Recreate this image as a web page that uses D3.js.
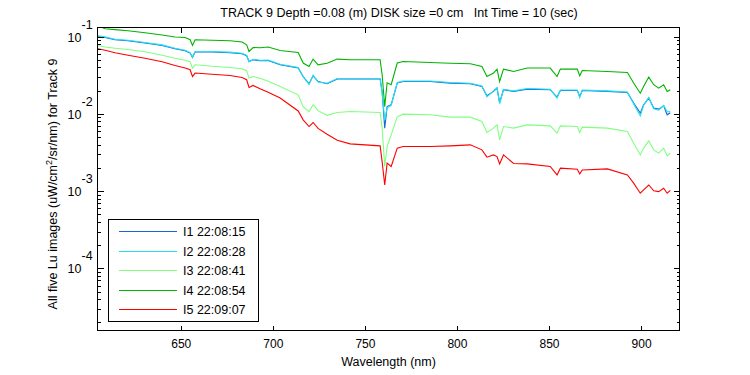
<!DOCTYPE html>
<html>
<head>
<meta charset="utf-8">
<script src="https://cdn.jsdelivr.net/npm/d3@7"></script>
<style>
  body { margin: 0; background: #fff; }
  svg { font-family: Arial, "Liberation Sans", sans-serif; }
  text { fill: #000; }
</style>
</head>
<body>
<div id="chart"></div>
<script>
// wavelength (nm) sampled along the spectra
var wavelengths = [604.8, 608.6, 614.0, 621.1, 630.3, 639.6, 646.6, 652.1, 654.8, 656.1,
  657.5, 666.7, 676.5, 683.0, 685.5, 686.8, 689.0, 692.8, 697.2, 703.7,
  713.5, 716.2, 719.4, 721.6, 724.3, 729.2, 734.7, 741.7, 758.0, 759.1,
  760.5, 761.8, 764.0, 767.3, 770.5, 785.2, 796.1, 807.0, 813.3, 816.0,
  819.6, 821.5, 822.9, 825.0, 830.5, 837.9, 850.4, 854.1, 855.9, 865.1,
  866.4, 867.8, 881.4, 892.3, 895.7, 899.3, 901.1, 903.9, 906.6, 909.3,
  912.0, 913.9, 915.6];

var lu1 = [0.100, 0.0974, 0.0909, 0.0882, 0.0824, 0.0767, 0.0695, 0.0655, 0.0611, 0.0536,
  0.0630, 0.0630, 0.0617, 0.0599, 0.0564, 0.0476, 0.0501, 0.0486, 0.0490, 0.0431,
  0.0391, 0.0304, 0.0245, 0.0311, 0.0262, 0.0245, 0.0282, 0.0282, 0.0282, 0.0193,
  0.00653, 0.0124, 0.0131, 0.0250, 0.0262, 0.0262, 0.0250, 0.0245, 0.0226, 0.0171,
  0.0195, 0.0215, 0.0140, 0.0205, 0.0195, 0.0209, 0.0205, 0.0165, 0.0200, 0.0200,
  0.0168, 0.0200, 0.0195, 0.0189, 0.0138, 0.0102, 0.0131, 0.0160, 0.0119, 0.0115,
  0.0127, 0.00971, 0.0103];

var lu2 = [0.102, 0.0990, 0.0925, 0.0895, 0.0838, 0.0780, 0.0707, 0.0666, 0.0620, 0.0545,
  0.0640, 0.0641, 0.0628, 0.0609, 0.0572, 0.0470, 0.0508, 0.0494, 0.0498, 0.0438,
  0.0397, 0.0300, 0.0240, 0.0316, 0.0258, 0.0249, 0.0287, 0.0287, 0.0287, 0.0185,
  0.00836, 0.0120, 0.0129, 0.0254, 0.0266, 0.0266, 0.0254, 0.0249, 0.0230, 0.0166,
  0.0198, 0.0219, 0.0135, 0.0208, 0.0198, 0.0213, 0.0208, 0.0160, 0.0203, 0.0203,
  0.0162, 0.0203, 0.0198, 0.0192, 0.0134, 0.00942, 0.0128, 0.0163, 0.0116, 0.0112,
  0.0129, 0.0106, 0.0107];

var lu3 = [0.0767, 0.0731, 0.0706, 0.0679, 0.0636, 0.0573, 0.0524, 0.0493, 0.0472, 0.0391,
  0.0431, 0.0412, 0.0398, 0.0383, 0.0361, 0.0290, 0.0304, 0.0288, 0.0264, 0.0226,
  0.0176, 0.0124, 0.0107, 0.0131, 0.0110, 0.00956, 0.0104, 0.0107, 0.0104, 0.00659,
  0.00208, 0.00377, 0.00535, 0.00915, 0.00991, 0.00971, 0.00906, 0.00906, 0.00795, 0.00573,
  0.00653, 0.00720, 0.00461, 0.00685, 0.00653, 0.00720, 0.00699, 0.00563, 0.00699, 0.00685,
  0.00573, 0.00673, 0.00653, 0.00590, 0.00417, 0.00294, 0.00360, 0.00447, 0.00342, 0.00310,
  0.00360, 0.00286, 0.00310];

var lu4 = [0.138, 0.126, 0.123, 0.119, 0.112, 0.105, 0.0988, 0.0971, 0.0909, 0.0767,
  0.0909, 0.0896, 0.0882, 0.0849, 0.0783, 0.0641, 0.0722, 0.0716, 0.0731, 0.0661,
  0.0622, 0.0454, 0.0410, 0.0511, 0.0431, 0.0451, 0.0511, 0.0501, 0.0501, 0.0320,
  0.0124, 0.0252, 0.0238, 0.0454, 0.0476, 0.0462, 0.0451, 0.0444, 0.0410, 0.0304,
  0.0337, 0.0379, 0.0262, 0.0379, 0.0353, 0.0391, 0.0391, 0.0304, 0.0379, 0.0379,
  0.0311, 0.0364, 0.0353, 0.0343, 0.0250, 0.0185, 0.0226, 0.0299, 0.0238, 0.0215,
  0.0238, 0.0195, 0.0205];

var lu5 = [0.0695, 0.0665, 0.0617, 0.0573, 0.0524, 0.0472, 0.0421, 0.0391, 0.0372, 0.0304,
  0.0337, 0.0325, 0.0313, 0.0295, 0.0276, 0.0219, 0.0233, 0.0211, 0.0190, 0.0160,
  0.0109, 0.00836, 0.00685, 0.00772, 0.00649, 0.00543, 0.00454, 0.00409, 0.00385, 0.00239,
  0.00120, 0.00230, 0.00208, 0.00360, 0.00377, 0.00377, 0.00385, 0.00397, 0.00342, 0.00275,
  0.00294, 0.00280, 0.00225, 0.00294, 0.00228, 0.00225, 0.00208, 0.00162, 0.00198, 0.00192,
  0.00167, 0.00188, 0.00194, 0.00162, 0.00127, 0.000939, 0.00104, 0.00120, 0.00101, 0.000985,
  0.00109, 0.000939, 0.00102];

var seriesNames = ["I1 22:08:15", "I2 22:08:28", "I3 22:08:41", "I4 22:08:54", "I5 22:09:07"];
var seriesColors = ["#1467d4", "#22e2f2", "#80ff80", "#00b400", "#ff0000"];
var xTicks = [650, 700, 750, 800, 850, 900];
var yExponents = [-1, -2, -3, -4];

var title = "TRACK 9 Depth =0.08 (m) DISK size =0 cm   Int Time = 10 (sec)";

var W = 750, H = 375;
var pL = 97.5, pR = 679.5, pT = 27.5, pB = 330.5;

var svg = d3.select("#chart").append("svg")
    .attr("width", W).attr("height", H);

var x = d3.scaleLinear().domain([604.5, 920.6]).range([pL, pR]);
var y = d3.scaleLog().domain([1.57e-5, 0.131]).range([pB, pT]);

svg.append("defs").append("clipPath").attr("id", "plotclip")
    .append("rect").attr("x", pL).attr("y", pT)
    .attr("width", pR - pL).attr("height", pB - pT);

// spectra
var allSeries = [lu1, lu2, lu3, lu4, lu5];
var line = d3.line()
    .x(function(d, i) { return x(wavelengths[i]); })
    .y(function(d) { return y(d); });

svg.append("g").attr("clip-path", "url(#plotclip)")
  .selectAll("path").data(allSeries).enter().append("path")
    .attr("d", function(d) { return line(d); })
    .attr("fill", "none")
    .attr("stroke", function(d, i) { return seriesColors[i]; })
    .attr("stroke-width", 1.1);

// axes box + ticks
var ax = svg.append("g").attr("shape-rendering", "crispEdges")
    .attr("stroke", "#000").attr("stroke-width", 1);

ax.append("rect").attr("x", pL).attr("y", pT)
    .attr("width", pR - pL).attr("height", pB - pT)
    .attr("fill", "none");

xTicks.forEach(function(t) {
    ax.append("line").attr("x1", x(t)).attr("x2", x(t)).attr("y1", pB).attr("y2", pB - 5);
    ax.append("line").attr("x1", x(t)).attr("x2", x(t)).attr("y1", pT).attr("y2", pT + 5);
});

// log ticks: majors at decades, minors at 2..9
var ymin = y.domain()[0], ymax = y.domain()[1];
for (var e = -5; e <= -1; e++) {
    for (var k = 1; k <= 9; k++) {
        var v = k * Math.pow(10, e);
        if (v < ymin || v > ymax) continue;
        var len = (k === 1) ? 6 : 3;
        var py = Math.round(y(v)) + 0.5;
        ax.append("line").attr("x1", pL).attr("x2", pL + len).attr("y1", py).attr("y2", py);
        ax.append("line").attr("x1", pR).attr("x2", pR - len).attr("y1", py).attr("y2", py);
    }
}

// tick labels
svg.append("g").selectAll("text").data(xTicks).enter().append("text")
    .attr("x", function(d) { return x(d); })
    .attr("y", 348)
    .attr("text-anchor", "middle")
    .style("font-size", "12px")
    .text(function(d) { return d; });

var yl = svg.append("g").style("font-size", "12.5px");
yExponents.forEach(function(ex) {
    var ty = y(Math.pow(10, ex));
    yl.append("text").attr("x", 81.5).attr("y", ty + 5)
        .attr("text-anchor", "end").text("10");
    yl.append("text").attr("x", 81.5).attr("y", ty - 8)
        .text(ex);
});

// title and labels
svg.append("text")
    .attr("x", 399).attr("y", 17)
    .attr("text-anchor", "middle")
    .style("font-size", "12.5px")
    .style("white-space", "pre")
    .attr("xml:space", "preserve")
    .text(title);

svg.append("text")
    .attr("x", (pL + pR) / 2).attr("y", 366)
    .attr("text-anchor", "middle")
    .style("font-size", "12.5px")
    .text("Wavelength (nm)");

var ylab = svg.append("text")
    .attr("transform", "translate(57,184) rotate(-90)")
    .attr("text-anchor", "middle")
    .style("font-size", "12.5px");
ylab.append("tspan").text("All five Lu images (uW/cm");
ylab.append("tspan").attr("dy", -5).style("font-size", "9px").text("2");
ylab.append("tspan").attr("dy", 5).text("/sr/nm) for Track 9");

// legend
var lg = svg.append("g");
lg.append("rect")
    .attr("x", 108.5).attr("y", 219.5)
    .attr("width", 150).attr("height", 102)
    .attr("fill", "#fff").attr("stroke", "#000")
    .attr("shape-rendering", "crispEdges");

var rowY = d3.scaleLinear().domain([0, 4]).range([231.5, 309.5]);
var rows = lg.selectAll("g.row").data(seriesNames).enter().append("g").attr("class", "row");
rows.append("line")
    .attr("x1", 119).attr("x2", 177)
    .attr("y1", function(d, i) { return rowY(i); })
    .attr("y2", function(d, i) { return rowY(i); })
    .attr("stroke", function(d, i) { return seriesColors[i]; })
    .attr("stroke-width", 1)
    .attr("shape-rendering", "crispEdges");
rows.append("text")
    .attr("x", 183)
    .attr("y", function(d, i) { return rowY(i) + 4.5; })
    .style("font-size", "12.5px")
    .text(function(d) { return d; });
</script>
</body>
</html>
